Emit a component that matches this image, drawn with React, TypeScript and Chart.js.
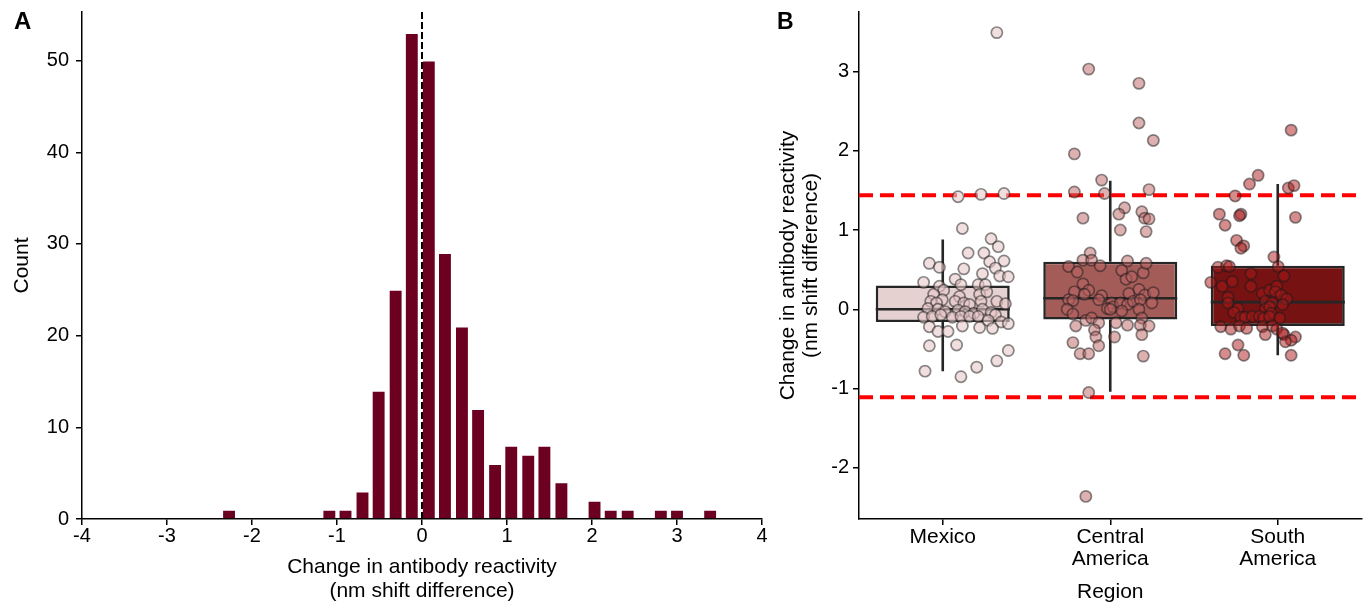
import React, { useEffect, useRef } from "react";
import { Chart, registerables } from "chart.js";

Chart.register(...registerables);

const FONT = "'Liberation Sans', Arial, Helvetica, sans-serif";

// ---------- Panel A: histogram ----------
const binCenters = [
  -2.27, -2.07, -1.88, -1.68, -1.49, -1.29, -1.09, -0.9, -0.7, -0.51, -0.31, -0.12,
  0.08, 0.27, 0.47, 0.66, 0.86, 1.05, 1.25, 1.44, 1.64, 1.83, 2.03, 2.22, 2.42, 2.61,
  2.81, 3.0, 3.2, 3.39,
];
const binCounts = [
  1, 0, 0, 0, 0, 0, 1, 1, 3, 14, 25, 53,
  50, 29, 21, 12, 6, 8, 7, 8, 4, 0, 2, 1, 1, 0,
  1, 1, 0, 1,
];
const histRefLine = 0;
const histXTitle = ["Change in antibody reactivity", "(nm shift difference)"];
const histYTitle = "Count";

// ---------- Panel B: box plots ----------
const regions = ["Mexico", "Central America", "South America"];
const regionTickLabels = [["Mexico"], ["Central", "America"], ["South", "America"]];
const boxQ1 = [-0.16, -0.13, -0.21];
const boxMedian = [0.0, 0.14, 0.09];
const boxQ3 = [0.3, 0.6, 0.55];
const whiskerLow = [-0.78, -1.04, -0.58];
const whiskerHigh = [0.88, 1.62, 1.58];
const thresholds = [1.44, -1.11];
const boxYTitle = ["Change in antibody reactivity", "(nm shift difference)"];
const boxXTitle = "Region";

const mexicoValues = [
  3.49, 1.42, 1.45, 1.46, 1.02, 0.89, 0.79, 0.71, 0.71, 0.58, 0.53, 0.51, 0.6, 0.61,
  0.52, 0.45, 0.42, 0.41, 0.34, 0.38, 0.31, 0.31, 0.31, 0.29, 0.24, 0.19, 0.16, 0.19,
  0.22, 0.12, 0.1, 0.08, 0.1, 0.08, 0.06, 0.1, 0.1, 0.07, 0.01, 0.0, -0.03, -0.01,
  -0.03, -0.05, 0.0, -0.04, -0.07, -0.1, -0.09, -0.07, -0.1, -0.09, -0.09, -0.09,
  -0.14, -0.16, -0.18, -0.22, -0.28, -0.28, -0.21, -0.23, -0.24, -0.46, -0.45, -0.52,
  -0.65, -0.73, -0.78, -0.85,
];
const mexicoJitter = [
  0.21, -0.06, 0.1, 0.26, -0.03, 0.17, 0.22, 0.01, 0.12, -0.26, -0.19, -0.02, 0.16, 0.26,
  0.2, 0.11, 0.23, 0.29, -0.3, -0.08, -0.04, 0.08, 0.13, -0.19, -0.16, -0.23, -0.05, 0.09,
  0.14, -0.17, -0.25, -0.21, -0.08, -0.02, 0.02, 0.1, 0.21, 0.27, -0.27, -0.2, -0.15, -0.06,
  -0.01, 0.05, 0.11, 0.17, 0.2, -0.3, -0.24, -0.18, -0.1, -0.04, 0.02, 0.08,
  0.15, 0.24, 0.29, -0.26, -0.2, -0.13, -0.03, 0.09, 0.18, -0.26, -0.07, 0.29,
  0.21, 0.07, -0.29, -0.04,
];

const centralValues = [
  3.03, 2.85, 2.35, 2.13, 1.96, 1.63, 1.48, 1.46, 1.51, 1.28, 1.2, 1.23, 1.15, 1.15, 1.14,
  1.0, 0.98, 0.71, 0.62, 0.54, 0.47, 0.62, 0.55, 0.61, 0.49, 0.38, 0.41, 0.46, 0.58, 0.32,
  0.24, 0.22, 0.19, 0.17, 0.2, 0.25, 0.18, 0.21, 0.12, 0.11, 0.12, 0.08, 0.01, 0.03, 0.08,
  0.06, 0.1, 0.12, 0.08, 0.0, 0.0, -0.02, 0.0, -0.06, -0.14, -0.11, -0.17, -0.11, -0.21,
  -0.17, -0.2, -0.2, -0.21, -0.26, -0.35, -0.35, -0.32, -0.42, -0.46, -0.56, -0.56, -0.59,
  -1.05, -2.36,
];
const centralJitter = [
  -0.15, 0.2, 0.2, 0.3, -0.25, -0.06, -0.25, -0.04, 0.27, 0.1, 0.06, 0.22, -0.19, 0.24, 0.27,
  0.07, 0.25, -0.14, -0.19, -0.29, -0.23, -0.13, -0.07, 0.12, 0.08, 0.11, 0.15, 0.23, 0.25, -0.19,
  -0.15, -0.25, -0.18, -0.06, 0.13, 0.2, 0.24, 0.3, -0.29, -0.26, -0.08, 0.01, -0.02, 0.02, 0.07,
  0.12, 0.16, 0.21, 0.29, -0.3, 0.0, 0.08, 0.2, -0.26, -0.17, -0.13, 0.04, 0.22, -0.24,
  -0.08, 0.12, 0.21, 0.27, -0.11, -0.1, 0.03, 0.22, -0.26, -0.08, -0.21, -0.15, 0.23,
  -0.15, -0.17,
];

const southValues = [
  2.26, 1.69, 1.58, 1.53, 1.56, 1.43, 1.2, 1.2, 1.18, 1.16, 1.06, 0.87, 0.8, 0.77, 0.66,
  0.53, 0.55, 0.54, 0.54, 0.45, 0.42, 0.34, 0.29, 0.35, 0.29, 0.2, 0.24, 0.29, 0.22, 0.18,
  0.13, 0.15, 0.08, 0.1, 0.08, 0.06, 0.01, -0.04, 0.0, 0.03, -0.05, -0.1, -0.1, -0.09, -0.09,
  -0.11, -0.09, -0.11, -0.22, -0.25, -0.21, -0.24, -0.22, -0.32, -0.21, -0.25, -0.32, -0.35,
  -0.39, -0.41, -0.45, -0.56, -0.58, -0.58, -0.3,
];
const southJitter = [
  0.26, 0.03, -0.03, 0.24, 0.28, -0.13, -0.24, -0.09, -0.1, 0.29, -0.2, -0.12, -0.07, -0.09, 0.14,
  -0.25, -0.19, -0.17, 0.17, -0.02, 0.21, -0.3, -0.22, -0.15, -0.02, 0.06, 0.11, 0.16, 0.15, 0.19,
  0.23, -0.18, -0.18, 0.08, 0.13, 0.2, -0.11, -0.14, 0.08, 0.11, 0.12, -0.09, -0.06, -0.01, 0.04,
  0.07, 0.11, 0.18, -0.23, -0.16, -0.1, -0.05, 0.06, 0.08, 0.13, 0.16, 0.21, 0.29,
  0.26, 0.22, -0.11, -0.2, -0.07, 0.26, 0.2,
];

const boxFill = ["#e6d1d1", "#a35c58", "#761212"];
const pointFill = ["rgba(232,200,200,0.6)", "rgba(190,100,100,0.5)", "rgba(170,25,25,0.5)"];
const pointBorder = "rgba(25,25,25,0.5)";

// y tick labels: small lineHeight so the label height does not push the plot top down
const yTickFont = { family: FONT, size: 20, lineHeight: 0.5 };
const xTickFont = { family: FONT, size: 20, lineHeight: 1.0 };

const histPlugin = {
  id: "histRef",
  afterDatasetsDraw(chart: any) {
    const { ctx, chartArea, scales } = chart;
    const x = scales.x.getPixelForValue(histRefLine);
    ctx.save();
    ctx.strokeStyle = "#000";
    ctx.lineWidth = 2;
    ctx.setLineDash([7, 3]);
    ctx.beginPath();
    ctx.moveTo(x, chartArea.top);
    ctx.lineTo(x, chartArea.bottom);
    ctx.stroke();
    ctx.restore();
  },
};

const boxPlugin = {
  id: "boxParts",
  afterDatasetDraw(chart: any, args: any) {
    if (args.index !== 0) return;
    const { ctx, chartArea, scales } = chart;
    const y = scales.y;
    const bars = args.meta.data;
    ctx.save();
    ctx.strokeStyle = "#262626";
    ctx.lineWidth = 2.6;
    ctx.lineCap = "butt";
    bars.forEach((el: any, i: number) => {
      const x = el.x;
      ctx.beginPath();
      ctx.moveTo(x, y.getPixelForValue(boxQ3[i]));
      ctx.lineTo(x, y.getPixelForValue(whiskerHigh[i]));
      ctx.moveTo(x, y.getPixelForValue(boxQ1[i]));
      ctx.lineTo(x, y.getPixelForValue(whiskerLow[i]));
      ctx.stroke();
      const m = y.getPixelForValue(boxMedian[i]);
      ctx.beginPath();
      ctx.moveTo(x - el.width / 2, m);
      ctx.lineTo(x + el.width / 2, m);
      ctx.stroke();
    });
    ctx.strokeStyle = "#ff0000";
    ctx.lineWidth = 4;
    ctx.setLineDash([14, 7]);
    thresholds.forEach((t) => {
      const py = y.getPixelForValue(t);
      ctx.beginPath();
      ctx.moveTo(chartArea.left, py);
      ctx.lineTo(chartArea.right, py);
      ctx.stroke();
    });
    ctx.restore();
  },
};

const axisCommon = {
  grid: {
    display: true,
    drawOnChartArea: false,
    drawTicks: true,
    tickLength: 6,
    color: "#000",
    lineWidth: 1.5,
    offset: false,
  },
  border: { display: true, color: "#000", width: 1.5 },
};

export default function App() {
  const refA = useRef<HTMLCanvasElement>(null);
  const refB = useRef<HTMLCanvasElement>(null);

  useEffect(() => {
    Chart.defaults.font.family = FONT;
    Chart.defaults.color = "#000";

    const chartA = new Chart(refA.current as HTMLCanvasElement, {
      type: "bar",
      data: {
        datasets: [
          {
            data: binCenters.map((x, i) => ({ x, y: binCounts[i] })),
            backgroundColor: "#6b0020",
            borderColor: "rgba(255,255,255,0.55)",
            borderWidth: 1,
            barPercentage: 0.86,
            categoryPercentage: 1,
          } as any,
        ],
      },
      options: {
        animation: false,
        responsive: false,
        maintainAspectRatio: false,
        layout: { autoPadding: false, padding: { top: 12, right: 8, left: 0, bottom: 0 } },
        plugins: { legend: { display: false }, tooltip: { enabled: false } },
        scales: {
          x: {
            type: "linear",
            min: -4,
            max: 4,
            offset: false,
            ticks: { stepSize: 1, font: xTickFont, color: "#000", padding: 1 },
            ...axisCommon,
            title: {
              display: true,
              text: histXTitle,
              font: { family: FONT, size: 21, lineHeight: 1.143 },
              color: "#000",
              padding: { top: 0, bottom: 1 },
            },
            afterFit: (s: any) => {
              s.height = 85;
            },
          },
          y: {
            type: "linear",
            min: 0,
            max: 55.3,
            ticks: { stepSize: 10, includeBounds: false, font: yTickFont, color: "#000", padding: 7 },
            ...axisCommon,
            title: {
              display: true,
              text: histYTitle,
              font: { family: FONT, size: 21, lineHeight: 1.1 },
              color: "#000",
              padding: { top: 10.5, bottom: 0 },
            },
            afterFit: (s: any) => {
              s.width = 82;
            },
          },
        } as any,
      },
      plugins: [histPlugin],
    });

    const jitterSets = [
      [mexicoValues, mexicoJitter],
      [centralValues, centralJitter],
      [southValues, southJitter],
    ];

    const chartB = new Chart(refB.current as HTMLCanvasElement, {
      type: "bar",
      data: {
        labels: regions,
        datasets: [
          {
            type: "bar",
            xAxisID: "x",
            yAxisID: "y",
            data: boxQ1.map((q, i) => [q, boxQ3[i]]),
            backgroundColor: boxFill,
            borderColor: "#262626",
            borderWidth: 2.6,
            borderSkipped: false,
            grouped: false,
            barPercentage: 0.8,
            categoryPercentage: 1,
            order: 2,
          } as any,
          ...jitterSets.map(
            ([vals, jit], r) =>
              ({
                type: "scatter",
                xAxisID: "xj",
                yAxisID: "y",
                data: vals.map((v, i) => ({ x: r + jit[i], y: v })),
                backgroundColor: pointFill[r],
                borderColor: pointBorder,
                borderWidth: 1.7,
                pointRadius: 5.6,
                order: 1,
              } as any)
          ),
        ],
      },
      options: {
        animation: false,
        responsive: false,
        maintainAspectRatio: false,
        layout: { autoPadding: false, padding: { top: 12, right: 1.5, left: 0, bottom: 0 } },
        plugins: { legend: { display: false }, tooltip: { enabled: false } },
        scales: {
          x: {
            type: "category",
            offset: true,
            ticks: {
              font: { family: FONT, size: 21, lineHeight: 1.05 },
              color: "#000",
              padding: 1,
              callback: (_v: any, i: number) => regionTickLabels[i],
            },
            ...axisCommon,
            title: {
              display: true,
              text: boxXTitle,
              font: { family: FONT, size: 21, lineHeight: 1.1 },
              color: "#000",
              padding: { top: 0, bottom: 0.5 },
            },
            afterFit: (s: any) => {
              s.height = 85;
            },
          },
          xj: {
            type: "linear",
            display: false,
            min: -0.5,
            max: 2.5,
          },
          y: {
            type: "linear",
            min: -2.645,
            max: 3.75,
            ticks: { stepSize: 1, includeBounds: false, font: yTickFont, color: "#000", padding: 4 },
            ...axisCommon,
            title: {
              display: true,
              text: boxYTitle,
              font: { family: FONT, size: 21, lineHeight: 1.095 },
              color: "#000",
              padding: { top: 6.5, bottom: 0 },
            },
            afterFit: (s: any) => {
              s.width = 89;
            },
          },
        } as any,
      },
      plugins: [boxPlugin],
    });

    return () => {
      chartA.destroy();
      chartB.destroy();
    };
  }, []);

  const letter: React.CSSProperties = {
    position: "absolute",
    fontFamily: FONT,
    fontWeight: "bold",
    lineHeight: 1,
    color: "#000",
  };

  return (
    <div
      style={{
        position: "absolute",
        left: 0,
        top: 0,
        width: 1363,
        height: 604,
        background: "#fff",
        overflow: "hidden",
      }}
    >
      <canvas
        ref={refA}
        width={770}
        height={604}
        style={{ position: "absolute", left: 0, top: 0, width: 770, height: 604 }}
      />
      <canvas
        ref={refB}
        width={593}
        height={604}
        style={{ position: "absolute", left: 770, top: 0, width: 593, height: 604 }}
      />
      <div style={{ ...letter, fontSize: 24, left: 14, top: 9 }}>A</div>
      <div style={{ ...letter, fontSize: 23, left: 777, top: 10 }}>B</div>
    </div>
  );
}
